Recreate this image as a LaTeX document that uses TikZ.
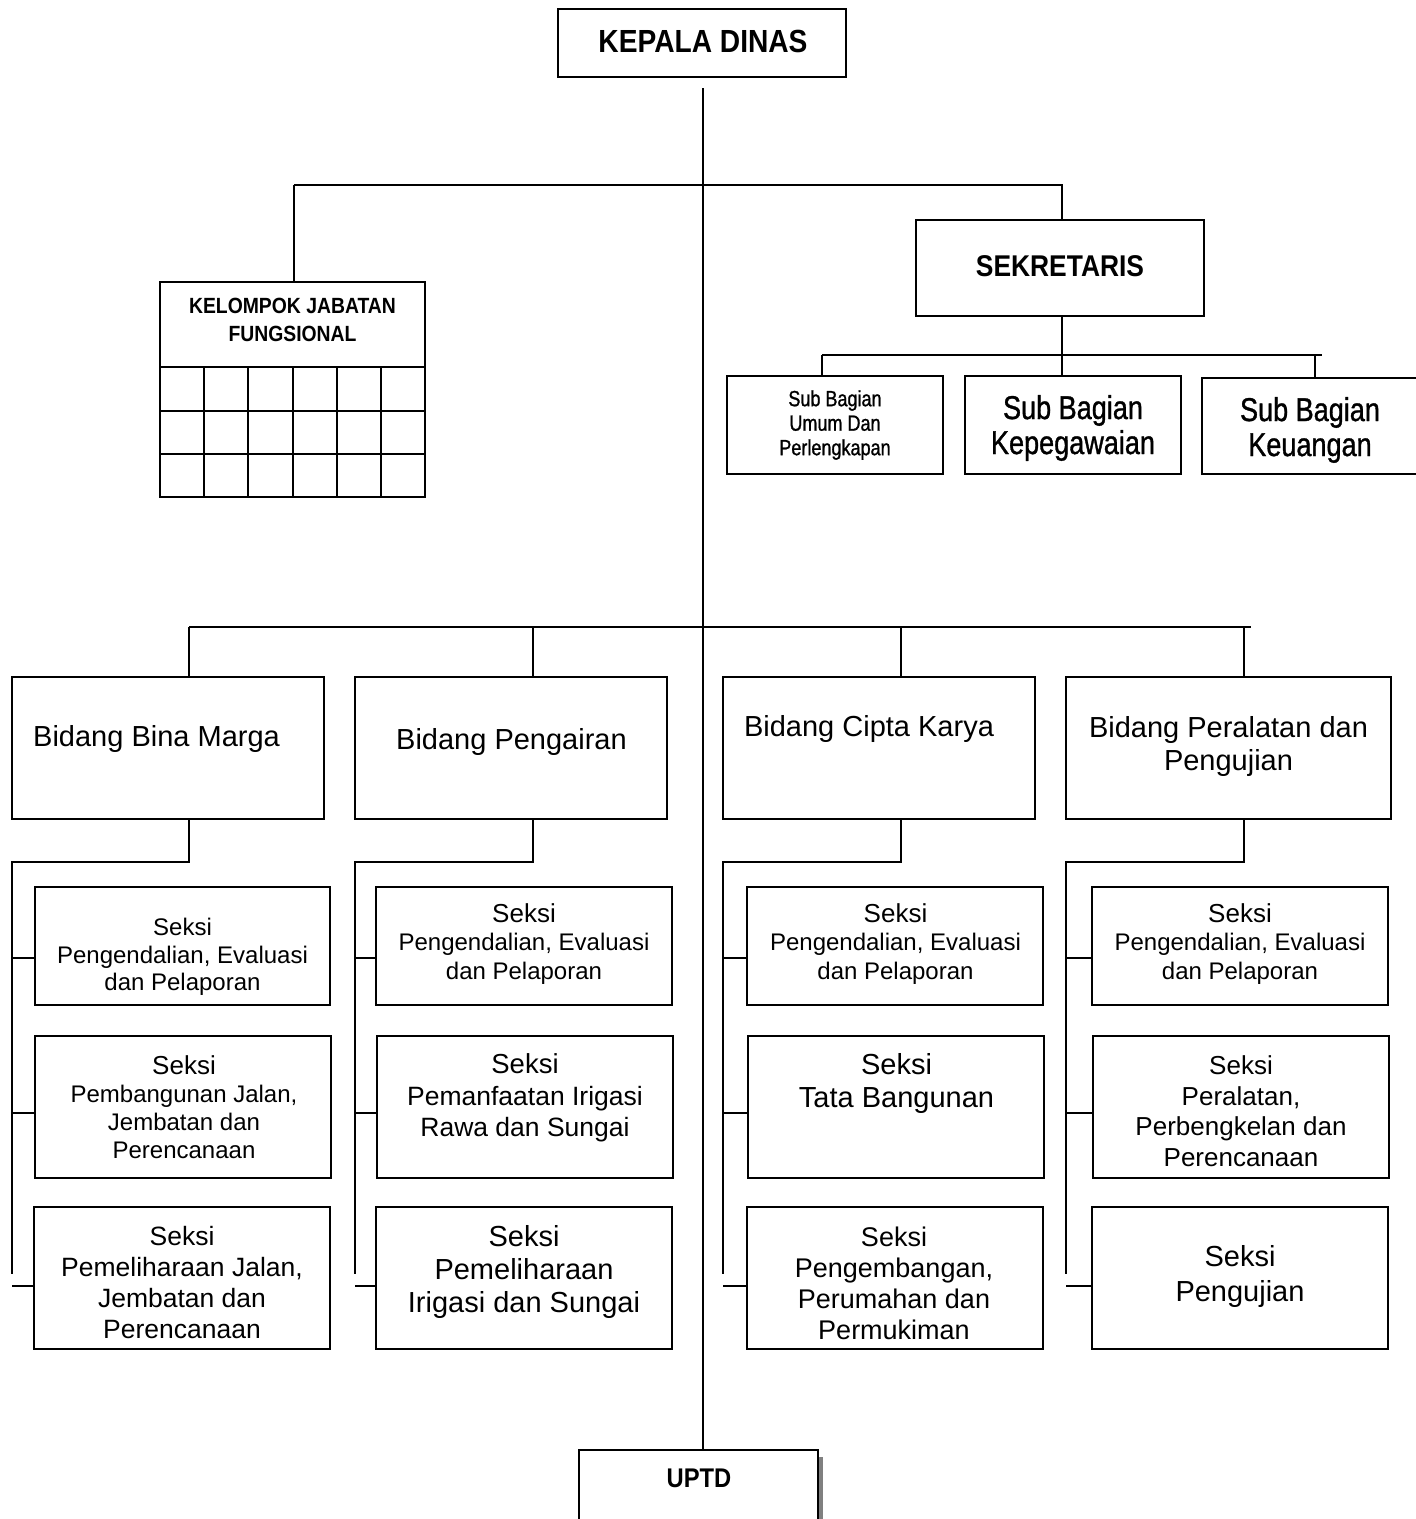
\documentclass[tikz,border=0pt]{standalone}
\usepackage{fontspec}
\setmainfont{Liberation Sans}
\newfontfamily\narrowsans[FakeStretch=0.82,FakeBold=1]{Liberation Sans}
\newfontfamily\narrowbold[FakeStretch=0.88]{Liberation Sans}
\newcommand\fs[2]{\fontsize{#1}{#2}\selectfont}
% box given by its corners: name, x1, y1, x2, y2
\newcommand\orgbox[5]{%
  \pgfmathsetmacro\obw{#4-#2}\pgfmathsetmacro\obh{#5-#3}%
  \node[unit, minimum width=\obw pt, minimum height=\obh pt] (#1) at ({(#2+#4)/2},{(#3+#5)/2}) {};}
\tikzset{
  unit/.style={draw, line width=2pt, inner sep=0pt, outer sep=0pt},
  link/.style={line width=1.7pt},
  lbl/.style={inner sep=0pt, align=center},
  head/.style={lbl, font=\narrowbold\bfseries},
}
\begin{document}
\begin{tikzpicture}[x=1pt, y=-1pt]
\fill[white] (0,0) rectangle (1416,1519);
\useasboundingbox (0,0) rectangle (1416,1519);

% ---------- top level ----------
\orgbox{kd}{558}{9}{846}{77}
\node[head, font=\narrowbold\bfseries\fs{32}{36}] (kdt) at (703,41) {KEPALA DINAS};

\orgbox{sek}{916}{220}{1204}{316}
\node[head, font=\narrowbold\bfseries\fs{30}{34}] (sekt) at (1060,266) {SEKRETARIS};

% functional group with its empty grid
\orgbox{kjf}{160}{282}{425}{497}
\node[head, font=\narrowbold\bfseries\fs{22}{28}] (kjft) at (292.5,320) {KELOMPOK JABATAN\\FUNGSIONAL};
\foreach \gy in {367,411,454} \draw[line width=2pt] (160,\gy) -- (425,\gy);
\foreach \gx in {204,248,293,337,381} \draw[line width=2pt] (\gx,367) -- (\gx,497);

% ---------- sub sections of the secretary ----------
\orgbox{umum}{727}{376}{943}{474}
\node[lbl, font=\narrowsans\fs{22}{24.5}] (umumt) at (835,425) {Sub Bagian\\Umum Dan\\Perlengkapan};
\orgbox{kep}{965}{376}{1181}{474}
\node[lbl, font=\narrowsans\fs{33}{35}] (kept) at (1073,428) {Sub Bagian\\Kepegawaian};
\orgbox{keu}{1202}{378}{1440}{474}
\node[lbl, font=\narrowsans\fs{33}{35}] (keut) at (1310,430) {Sub Bagian\\Keuangan};

% ---------- UPTD ----------
\orgbox{uptd}{579}{1450}{818}{1545}
\fill[black!50] ([xshift=1pt,yshift=-7pt]uptd.north east) rectangle ([xshift=5pt]uptd.south east);
\node[head, font=\narrowbold\bfseries\fs{27}{30}] (uptdt) at (699,1478) {UPTD};

% ---------- bidang ----------
\orgbox{bm}{12}{677}{324}{819}
\node[lbl, anchor=west, font=\fs{29}{33}] (bmt) at (33,739) {Bidang Bina Marga};
\orgbox{pg}{355}{677}{667}{819}
\node[lbl, font=\fs{29}{33}] (pgt) at (511.5,742) {Bidang Pengairan};
\orgbox{ck}{723}{677}{1035}{819}
\node[lbl, font=\fs{29}{33}] (ckt) at (869,729) {Bidang Cipta Karya};
\orgbox{pp}{1066}{677}{1391}{819}
\node[lbl, font=\fs{29}{33}] (ppt) at (1228.5,746) {Bidang Peralatan dan\\Pengujian};

% ---------- seksi boxes ----------
\orgbox{s11}{35}{887}{330}{1005}
\orgbox{s12}{35}{1036}{331}{1178}
\orgbox{s13}{34}{1207}{330}{1349}
\orgbox{s21}{376}{887}{672}{1005}
\orgbox{s22}{377}{1036}{673}{1178}
\orgbox{s23}{376}{1207}{672}{1349}
\orgbox{s31}{747}{887}{1043}{1005}
\orgbox{s32}{748}{1036}{1044}{1178}
\orgbox{s33}{747}{1207}{1043}{1349}
\orgbox{s41}{1092}{887}{1388}{1005}
\orgbox{s42}{1093}{1036}{1389}{1178}
\orgbox{s43}{1092}{1207}{1388}{1349}

\node[lbl, font=\fs{24}{27.5}] (s11t) at (182.5,957) {Seksi\\Pengendalian, Evaluasi\\dan Pelaporan};
\node[lbl, font=\fs{24}{28}] (s12t) at (184,1107.5) {{\fs{26}{28}Seksi}\\Pembangunan Jalan,\\Jembatan dan\\Perencanaan};
\node[lbl, font=\fs{26.5}{31}] (s13t) at (182,1283) {Seksi\\Pemeliharaan Jalan,\\Jembatan dan\\Perencanaan};

\node[lbl, font=\fs{24}{28.5}] (s21t) at (524,944) {{\fs{26}{28}Seksi}\\Pengendalian, Evaluasi\\dan Pelaporan};
\node[lbl, font=\fs{26.5}{31.5}] (s22t) at (525,1098) {{\fs{27.5}{30}Seksi}\\Pemanfaatan Irigasi\\Rawa dan Sungai};
\node[lbl, font=\fs{29}{33}] (s23t) at (524,1272) {Seksi\\Pemeliharaan\\Irigasi dan Sungai};

\node[lbl, font=\fs{24}{28.5}] (s31t) at (895.5,944) {{\fs{26}{28}Seksi}\\Pengendalian, Evaluasi\\dan Pelaporan};
\node[lbl, font=\fs{29}{33}] (s32t) at (896.5,1083) {Seksi\\Tata Bangunan};
\node[lbl, font=\fs{27}{31}] (s33t) at (894,1283) {Seksi\\Pengembangan,\\Perumahan dan\\Permukiman};

\node[lbl, font=\fs{24}{28.5}] (s41t) at (1240,944) {{\fs{26}{28}Seksi}\\Pengendalian, Evaluasi\\dan Pelaporan};
\node[lbl, font=\fs{26}{30.5}] (s42t) at (1241,1111) {Seksi\\Peralatan,\\Perbengkelan dan\\Perencanaan};
\node[lbl, font=\fs{29}{35}] (s43t) at (1240,1276) {Seksi\\Pengujian};

% ---------- connectors ----------
% main trunk from the head down to UPTD
\coordinate (trunk) at (703,88);
\draw[link, line width=2pt] (trunk) -- (trunk |- uptd.north);

% head to functional group and secretary
\coordinate (kjfdrop) at (294,185);
\coordinate (sekdrop) at (1062,185);
\draw[link] (kjfdrop) -- (kjfdrop |- kjf.north);
\draw[link] (kjfdrop) -- (sekdrop) -- (sekdrop |- sek.north);

% secretary to its sub sections
\coordinate (sbl) at (822,355);
\coordinate (sbm) at (1062,355);
\coordinate (sbk) at (1315,355);
\coordinate (sbr) at (1322,355);
\draw[link] (sbm |- sek.south) -- (sbm |- kep.north);
\draw[link] (sbl) -- (sbr);
\draw[link] (sbl) -- (sbl |- umum.north);
\draw[link] (sbk) -- (sbk |- keu.north);

% head to the four bidang
\coordinate (bbl) at (189,627);
\coordinate (bb2) at (533,627);
\coordinate (bb3) at (901,627);
\coordinate (bb4) at (1244,627);
\coordinate (bbr) at (1251,627);
\draw[link] (bbl) -- (bbr);
\draw[link] (bbl) -- (bbl |- bm.north);
\draw[link] (bb2) -- (bb2 |- pg.north);
\draw[link] (bb3) -- (bb3 |- ck.north);
\draw[link] (bb4) -- (bb4 |- pp.north);

% each bidang to its seksi: elbow, spine and stubs
\foreach \bid/\tx/\sx/\c in {bm/189/12/1, pg/533/355/2, ck/901/723/3, pp/1244/1066/4}{
  \coordinate (el\c) at (\tx,862);
  \coordinate (sp\c) at (\sx,862);
  \coordinate (spend\c) at (\sx,1274);
  \coordinate (st\c a) at (\sx,958);
  \coordinate (st\c b) at (\sx,1113);
  \coordinate (st\c c) at (\sx,1286);
  \draw[link] (el\c |- \bid.south) -- (el\c) -- (sp\c) -- (spend\c);
  \draw[link] (st\c a) -- (st\c a -| s\c1.west);
  \draw[link] (st\c b) -- (st\c b -| s\c2.west);
  \draw[link] (st\c c) -- (st\c c -| s\c3.west);
}
\end{tikzpicture}
\end{document}
